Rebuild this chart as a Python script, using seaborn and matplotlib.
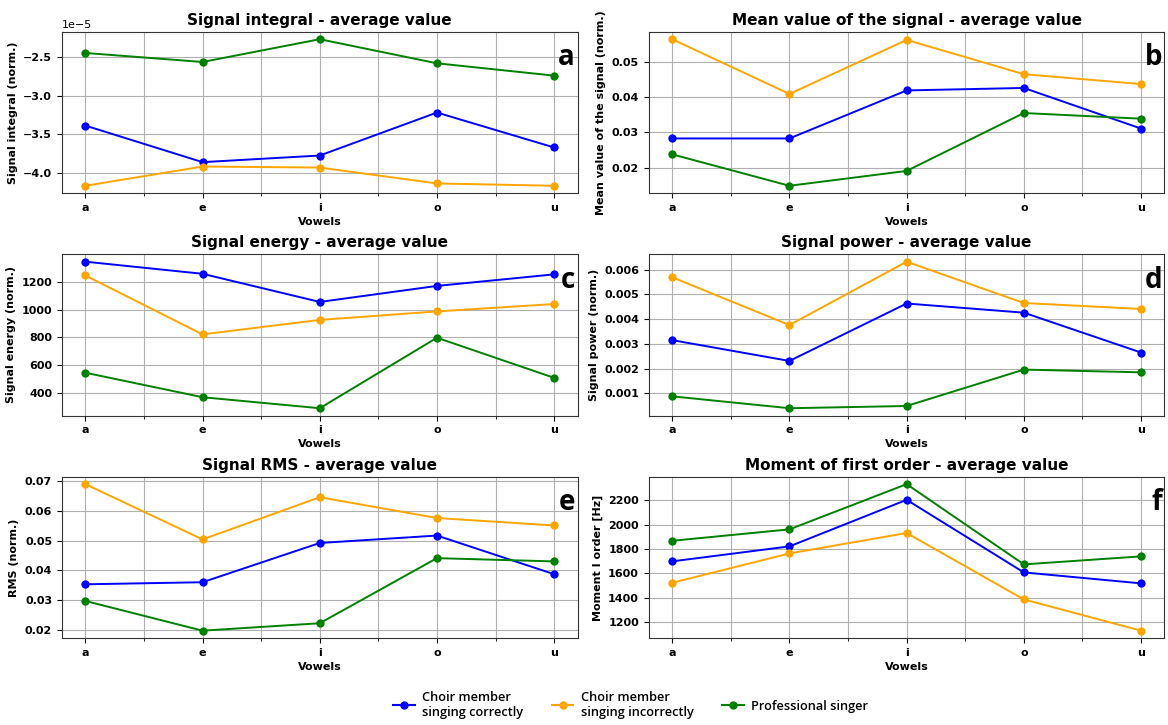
import numpy as np
import pandas as pd
import matplotlib
matplotlib.use("Agg")
import matplotlib.pyplot as plt
from matplotlib.ticker import FixedLocator, MultipleLocator
from matplotlib.lines import Line2D
import seaborn as sns

vowels = ["a", "e", "i", "o", "u"]
groups = ["Choir member\nsinging correctly", "Choir member\nsinging incorrectly", "Professional singer"]
colors = ["blue", "orange", "green"]

# panel a (x 1e-5)
integral_correct = [-3.385e-5, -3.859e-5, -3.773e-5, -3.216e-5, -3.669e-5]
integral_incorrect = [-4.165e-5, -3.916e-5, -3.929e-5, -4.135e-5, -4.165e-5]
integral_pro = [-2.444e-5, -2.561e-5, -2.266e-5, -2.578e-5, -2.738e-5]
# panel b
mean_correct = [0.0283, 0.0283, 0.0419, 0.0426, 0.0311]
mean_incorrect = [0.0564, 0.0409, 0.0562, 0.0465, 0.0437]
mean_pro = [0.0238, 0.0149, 0.0191, 0.0355, 0.0339]
# panel c
energy_correct = [1344, 1257, 1055, 1170, 1253]
energy_incorrect = [1245, 822, 926, 987, 1040]
energy_pro = [547, 371, 292, 798, 510]
# panel d
power_correct = [0.00315, 0.00231, 0.00463, 0.00426, 0.00265]
power_incorrect = [0.00569, 0.00376, 0.00632, 0.00465, 0.00441]
power_pro = [0.00088, 0.00040, 0.00049, 0.00196, 0.00185]
# panel e
rms_correct = [0.0353, 0.0360, 0.0492, 0.0517, 0.0387]
rms_incorrect = [0.0690, 0.0504, 0.0646, 0.0576, 0.0551]
rms_pro = [0.0297, 0.0197, 0.0222, 0.0441, 0.0430]
# panel f
moment_correct = [1699, 1822, 2205, 1608, 1518]
moment_incorrect = [1523, 1764, 1932, 1386, 1129]
moment_pro = [1868, 1962, 2334, 1674, 1740]

titles = ["Signal integral - average value", "Mean value of the signal - average value",
          "Signal energy - average value", "Signal power - average value",
          "Signal RMS - average value", "Moment of first order - average value"]
ylabels = ["Signal integral (norm.)", "Mean value of the signal (norm.)",
           "Signal energy (norm.)", "Signal power (norm.)",
           "RMS (norm.)", "Moment I order [Hz]"]
letters = ["a", "b", "c", "d", "e", "f"]
ystep = [0.5e-5, 0.01, 200, 0.001, 0.01, 200]

panels = [
    (integral_correct, integral_incorrect, integral_pro),
    (mean_correct, mean_incorrect, mean_pro),
    (energy_correct, energy_incorrect, energy_pro),
    (power_correct, power_incorrect, power_pro),
    (rms_correct, rms_incorrect, rms_pro),
    (moment_correct, moment_incorrect, moment_pro),
]

plt.rcParams["font.family"] = ["DejaVu Sans"]
plt.rcParams["axes.labelweight"] = "bold"
plt.rcParams["axes.titleweight"] = "bold"

fig, axes = plt.subplots(3, 2, figsize=(11.68, 7.25), dpi=100)
fig.subplots_adjust(left=0.053, right=0.997, top=0.956, bottom=0.12, hspace=0.38, wspace=0.138)

for k, ax in enumerate(axes.flat):
    series = panels[k]
    rows = []
    for g, vals in zip(groups, series):
        for v, val in zip(vowels, vals):
            rows.append({"Vowels": v, "value": val, "group": g})
    df = pd.DataFrame(rows)
    sns.lineplot(data=df, x="Vowels", y="value", hue="group", hue_order=groups,
                 palette=colors, marker="o", markersize=6, markeredgewidth=0,
                 linewidth=1.4, ax=ax, legend=False, sort=False)
    ax.set_title(titles[k], fontsize=11, fontweight="bold", pad=5)
    ax.set_xlabel("Vowels", fontsize=8, fontweight="bold", labelpad=3)
    ax.set_ylabel(ylabels[k], fontsize=8, fontweight="bold")
    ax.tick_params(axis="both", labelsize=8)
    ax.yaxis.set_major_locator(MultipleLocator(ystep[k]))
    ax.xaxis.set_minor_locator(FixedLocator([0.5, 1.5, 2.5, 3.5]))
    ax.grid(True, which="major", color="#b0b0b0", linewidth=0.8)
    ax.grid(True, which="minor", axis="x", color="#b0b0b0", linewidth=0.8)
    ax.set_axisbelow(True)
    for s in ax.spines.values():
        s.set_color("#333333")
    ax.text(0.995, 0.93, letters[k], transform=ax.transAxes, ha="right", va="top",
            fontsize=20, fontweight="bold", family=["Open Sans", "DejaVu Sans"])
    for lab in ax.get_xticklabels() + ax.get_yticklabels():
        lab.set_fontweight("bold")

axes[0, 0].yaxis.get_offset_text().set_fontsize(8)

handles = [Line2D([0], [0], color=c, marker="o", markersize=5, linewidth=1.5) for c in colors]
fig.legend(handles, groups, loc="center", bbox_to_anchor=(0.54, 0.028), ncol=3, frameon=False,
           prop={"family": "Open Sans", "weight": "semibold", "size": 9.2},
           handlelength=1.7, handletextpad=0.6, columnspacing=2.2)

fig.savefig("out.png", dpi=100)
